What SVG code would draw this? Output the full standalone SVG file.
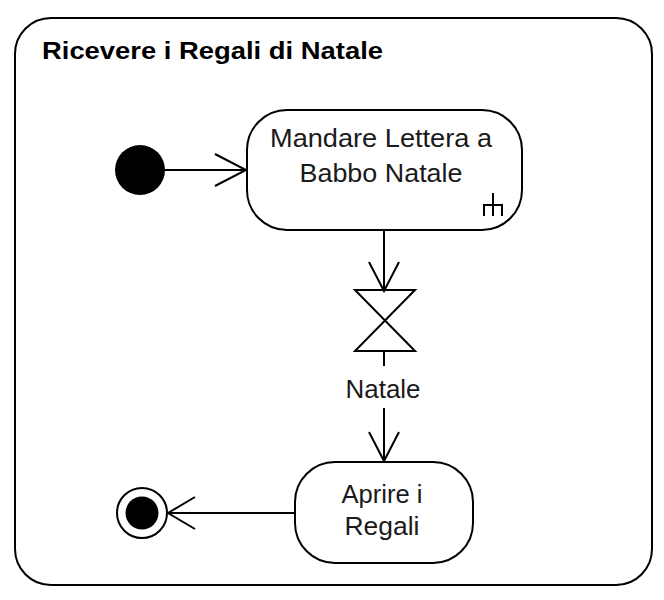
<svg xmlns="http://www.w3.org/2000/svg" width="664" height="600" viewBox="0 0 664 600">
<style>
.ln{stroke:#000;stroke-width:2;fill:none}
.box{stroke:#000;stroke-width:2;fill:#fff}
.t{font-family:"Liberation Sans",Arial,sans-serif;font-size:26px;fill:#1a1a1a;text-anchor:middle}
.title{font-family:"Liberation Sans",Arial,sans-serif;font-size:24px;font-weight:bold;fill:#000}
</style>
<rect width="664" height="600" fill="#fff"/>
<g id="frame">
<rect class="box" x="15" y="18" width="637" height="567" rx="36"/>
<text class="title" x="42" y="59" textLength="341" lengthAdjust="spacingAndGlyphs">Ricevere i Regali di Natale</text>
</g>
<g id="connectors">
<line class="ln" x1="165" y1="170" x2="246" y2="170"/>
<polyline class="ln" points="215,154 246,170 215,186"/>
<line class="ln" x1="384" y1="230" x2="384" y2="290"/>
<polyline class="ln" points="369,262 384,291 399,262"/>
<line class="ln" x1="384" y1="351" x2="384" y2="366"/>
<line class="ln" x1="384" y1="408" x2="384" y2="461"/>
<polyline class="ln" points="369,432 384,461 399,432"/>
<line class="ln" x1="295" y1="513" x2="168" y2="513"/>
<polyline class="ln" points="195,497 168,513 195,529"/>
<text class="t" x="383" y="398" textLength="75" lengthAdjust="spacingAndGlyphs">Natale</text>
</g>
<g id="initial">
<circle cx="140" cy="170" r="25" fill="#000"/>
</g>
<g id="send">
<rect class="box" x="247" y="110" width="275" height="120" rx="40"/>
<text class="t" x="381" y="147" textLength="222" lengthAdjust="spacingAndGlyphs">Mandare Lettera a</text>
<text class="t" x="381" y="182" textLength="163" lengthAdjust="spacingAndGlyphs">Babbo Natale</text>
<path class="ln" d="M493,193 V216 M484,216 V205 H502 V216"/>
</g>
<g id="accept">
<path class="ln" d="M355,290 H415 L355,351 H415 Z"/>
</g>
<g id="open">
<rect class="box" x="295" y="462" width="178" height="101" rx="40"/>
<text class="t" x="382" y="503" textLength="81" lengthAdjust="spacingAndGlyphs">Aprire i</text>
<text class="t" x="382" y="535" textLength="75" lengthAdjust="spacingAndGlyphs">Regali</text>
</g>
<g id="final">
<circle cx="142" cy="513" r="25" fill="#fff" stroke="#000" stroke-width="2"/>
<circle cx="142" cy="513" r="16.5" fill="#000"/>
</g>
</svg>
